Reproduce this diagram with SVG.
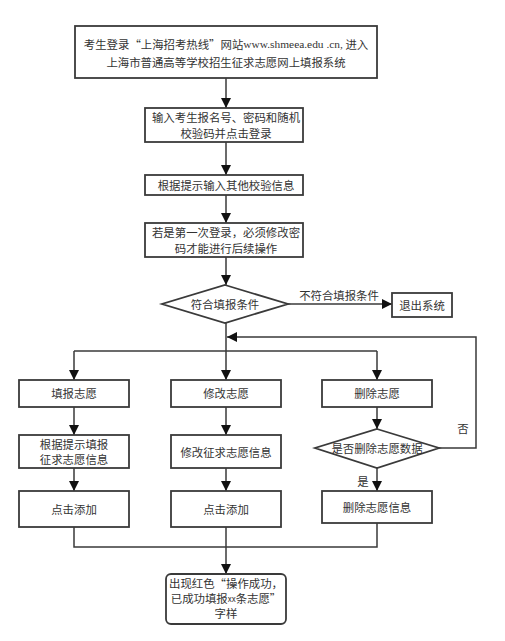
<svg xmlns="http://www.w3.org/2000/svg" width="505" height="641" viewBox="0 0 505 641">
<style>
.b{fill:#fff;stroke:#3a3a3a;stroke-width:1.8}
.t{font-family:"Noto Sans CJK SC","Liberation Sans",sans-serif;font-size:11.4px;fill:#333;text-anchor:middle;dominant-baseline:central}
.c{fill:none;stroke:#3a3a3a;stroke-width:1.5}
.s{font-family:"Liberation Serif",serif}
</style>
<defs>
<marker id="ah" markerUnits="userSpaceOnUse" markerWidth="10" markerHeight="12" viewBox="0 0 10 12" refX="10" refY="6" orient="auto">
<path d="M0,1 L10,6 L0,11 Z" fill="#111"/>
</marker>
</defs>
<rect width="505" height="641" fill="#fff"/>
<g id="connectors">
<path class="c" d="M226,78 V108" marker-end="url(#ah)"/>
<path class="c" d="M226,142 V175" marker-end="url(#ah)"/>
<path class="c" d="M226,195 V223" marker-end="url(#ah)"/>
<path class="c" d="M226,257 V285" marker-end="url(#ah)"/>
<path class="c" d="M288,304 H392" marker-end="url(#ah)"/>
<path class="c" d="M226,323 V351"/>
<path class="c" d="M74,351 H377"/>
<path class="c" d="M74,351 V380" marker-end="url(#ah)"/>
<path class="c" d="M226,351 V380" marker-end="url(#ah)"/>
<path class="c" d="M377,351 V380" marker-end="url(#ah)"/>
<path class="c" d="M439,448 H476 V337 H227" marker-end="url(#ah)"/>
<path class="c" d="M74,407 V435" marker-end="url(#ah)"/>
<path class="c" d="M226,407 V435" marker-end="url(#ah)"/>
<path class="c" d="M377,407 V429" marker-end="url(#ah)"/>
<path class="c" d="M74,468 V491" marker-end="url(#ah)"/>
<path class="c" d="M226,468 V491" marker-end="url(#ah)"/>
<path class="c" d="M377,468 V491" marker-end="url(#ah)"/>
<path class="c" d="M74,527 V547 H377 V523"/>
<path class="c" d="M226,527 V574" marker-end="url(#ah)"/>
<text class="t" x="339" y="295">不符合填报条件</text>
<text class="t" x="463" y="428">否</text>
<text class="t" x="363" y="481">是</text>
</g>
<g id="n1">
<rect class="b" x="75" y="26" width="302" height="52"/>
<text class="t" x="226" y="44">考生登录“上海招考热线”网站<tspan class="s">www.shmeea.edu .cn,</tspan> 进入</text>
<text class="t" x="226" y="62">上海市普通高等学校招生征求志愿网上填报系统</text>
</g>
<g id="n2">
<rect class="b" x="145" y="108" width="158" height="34"/>
<text class="t" x="226" y="117">输入考生报名号、密码和随机</text>
<text class="t" x="226" y="133">校验码并点击登录</text>
</g>
<g id="n3">
<rect class="b" x="145" y="175" width="158" height="20"/>
<text class="t" x="226" y="185">根据提示输入其他校验信息</text>
</g>
<g id="n4">
<rect class="b" x="145" y="223" width="158" height="34"/>
<text class="t" x="226" y="232">若是第一次登录，必须修改密</text>
<text class="t" x="226" y="248">码才能进行后续操作</text>
</g>
<g id="n5">
<polygon class="b" points="225,285 288,304 225,323 162,304"/>
<text class="t" x="225" y="304">符合填报条件</text>
</g>
<g id="n6">
<rect class="b" x="392" y="293" width="60" height="24"/>
<text class="t" x="422" y="305">退出系统</text>
</g>
<g id="n7">
<rect class="b" x="19" y="380" width="110" height="27"/>
<text class="t" x="74" y="393">填报志愿</text>
</g>
<g id="n8">
<rect class="b" x="171" y="380" width="110" height="27"/>
<text class="t" x="226" y="393">修改志愿</text>
</g>
<g id="n9">
<rect class="b" x="322" y="380" width="110" height="27"/>
<text class="t" x="377" y="393">删除志愿</text>
</g>
<g id="n10">
<rect class="b" x="19" y="435" width="110" height="33"/>
<text class="t" x="74" y="444">根据提示填报</text>
<text class="t" x="74" y="459">征求志愿信息</text>
</g>
<g id="n11">
<rect class="b" x="171" y="435" width="110" height="33"/>
<text class="t" x="226" y="452">修改征求志愿信息</text>
</g>
<g id="n12">
<polygon class="b" points="377,429 439,448 377,468 315,448"/>
<text class="t" x="377" y="448">是否删除志愿数据</text>
</g>
<g id="n13">
<rect class="b" x="19" y="491" width="110" height="36"/>
<text class="t" x="74" y="509">点击添加</text>
</g>
<g id="n14">
<rect class="b" x="171" y="491" width="110" height="36"/>
<text class="t" x="226" y="509">点击添加</text>
</g>
<g id="n15">
<rect class="b" x="322" y="491" width="110" height="32"/>
<text class="t" x="377" y="507">删除志愿信息</text>
</g>
<g id="n16">
<rect class="b" x="166" y="574" width="120" height="50" rx="5"/>
<text class="t" x="226" y="583">出现红色“操作成功，</text>
<text class="t" x="226" y="598">已成功填报<tspan font-size="8">xx</tspan>条志愿”</text>
<text class="t" x="226" y="613">字样</text>
</g>
</svg>
